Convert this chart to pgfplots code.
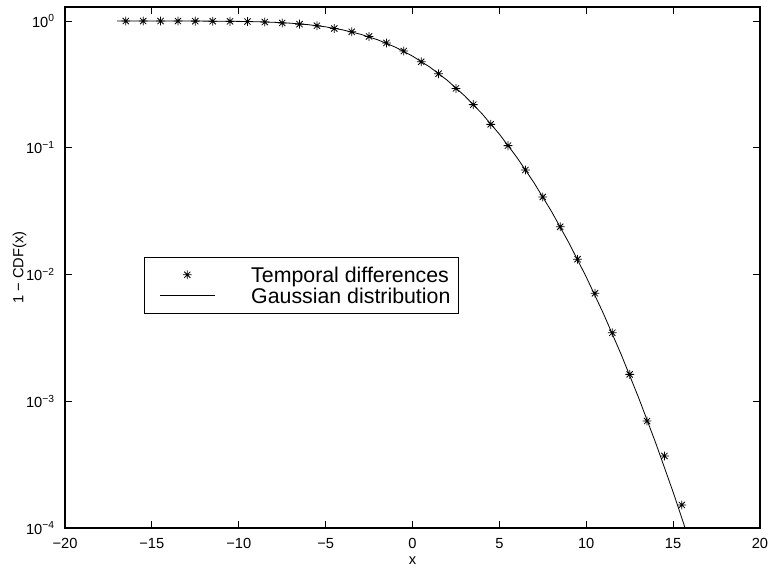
\documentclass[border=0pt]{standalone}
\usepackage{fontspec}
\setmainfont{Liberation Sans}
\usepackage{pgfplots}
\pgfplotsset{compat=1.18}

% MATLAB-style '*' marker: plus and cross on top of each other
\pgfdeclareplotmark{mstar}{%
  \pgfpathmoveto{\pgfqpoint{-\pgfplotmarksize}{0pt}}%
  \pgfpathlineto{\pgfqpoint{\pgfplotmarksize}{0pt}}%
  \pgfpathmoveto{\pgfqpoint{0pt}{-\pgfplotmarksize}}%
  \pgfpathlineto{\pgfqpoint{0pt}{\pgfplotmarksize}}%
  \pgfpathmoveto{\pgfqpoint{-0.707\pgfplotmarksize}{-0.707\pgfplotmarksize}}%
  \pgfpathlineto{\pgfqpoint{0.707\pgfplotmarksize}{0.707\pgfplotmarksize}}%
  \pgfpathmoveto{\pgfqpoint{-0.707\pgfplotmarksize}{0.707\pgfplotmarksize}}%
  \pgfpathlineto{\pgfqpoint{0.707\pgfplotmarksize}{-0.707\pgfplotmarksize}}%
  \pgfusepathqstroke}

\begin{document}
\begin{tikzpicture}
\path[use as bounding box] (-48.75pt,-30.75pt) rectangle (530.25pt,396pt);
\begin{axis}[
    at={(0,0)}, anchor=south west,
    scale only axis,
    width=521.25pt, height=390.75pt,
    ymode=log,
    xmin=-20, xmax=20,
    ymin=1e-4, ymax=1.29,
    xtick={-20,-15,...,20},
    xticklabels={−20,−15,−10,−5,0,5,10,15,20},
    ytick={1e-4,1e-3,1e-2,1e-1,1},
    yticklabels={10\textsuperscript{−4},10\textsuperscript{−3},10\textsuperscript{−2},10\textsuperscript{−1},10\textsuperscript{0}},
    yminorticks=false,
    tick align=inside,
    major tick length=5.25pt,
    axis line style={line width=0.9pt},
    every tick/.style={black, line width=0.6pt},
    tick label style={font=\fontsize{11}{13}\selectfont},
    xticklabel style={inner sep=0pt, yshift=-7.5pt},
    yticklabel style={inner sep=0pt, xshift=-7.5pt},
    xlabel={x},
    ylabel={1 − CDF(x)},
    label style={font=\fontsize{11}{13}\selectfont},
    xlabel style={at={(axis description cs:0.5,-0.0635)}, anchor=center},
    ylabel style={at={(axis description cs:-0.0655,0.5)}, anchor=center},
    legend style={
        at={(0.1137,0.5207)}, anchor=north west,
        draw=black, line width=0.6pt,
        inner xsep=6pt, inner ysep=5.4pt,
        font=\fontsize{16}{18}\selectfont,
        nodes={inner sep=0pt, text height=13.5pt, text depth=2.25pt},
        /tikz/every odd column/.append style={column sep=27pt},
    },
    legend cell align=left,
    legend image code/.code={%
        \path (-5.25pt,0pt);
        \draw[mark repeat=2,mark phase=2] plot coordinates {(0pt,0pt) (20.625pt,0pt) (41.25pt,0pt)};
    },
]
\addplot[only marks, mark=mstar, mark size=3.3pt, black, line width=0.6pt] coordinates {
    (-16.5,1.0) (-15.5,1.0) (-14.5,0.9999) (-13.5,0.999) (-12.5,0.998)
    (-11.5,0.996) (-10.5,0.994) (-9.5,0.990) (-8.5,0.982) (-7.5,0.966)
    (-6.5,0.945) (-5.5,0.918) (-4.5,0.873) (-3.5,0.822) (-2.5,0.756)
    (-1.5,0.672) (-0.5,0.580) (0.5,0.477) (1.5,0.384) (2.5,0.294)
    (3.5,0.219) (4.5,0.153) (5.5,0.104) (6.5,0.0668) (7.5,0.0409)
    (8.5,0.0238) (9.5,0.0132) (10.5,0.00711) (11.5,0.00347) (12.5,0.00163)
    (13.5,0.000698) (14.5,0.00037) (15.5,0.000152)
};
\addlegendentry{Temporal differences}
\addplot[black, line width=0.6pt, mark=none] coordinates {
    (-17,0.99999) (-16,0.99996) (-15,0.99989) (-14,0.99972) (-13,0.99934)
    (-12,0.99852) (-11,0.99682) (-10,0.99358) (-9,0.98765) (-8,0.97752)
    (-7,0.96105) (-6,0.93599) (-5,0.8997) (-4,0.8505) (-3,0.7873)
    (-2,0.7108) (-1,0.6232) (0,0.5289) (1,0.4329) (2,0.3407)
    (3,0.2571) (4,0.1857) (5,0.1281) (6,0.0843) (7,0.0528)
    (8,0.03145) (9,0.01780) (10,0.00956) (11,0.00488) (12,0.002357)
    (13,0.001079) (14,0.000468) (15,0.000192) (16,0.0000747)
};
\addlegendentry{Gaussian distribution}
\end{axis}
\end{tikzpicture}
\end{document}
